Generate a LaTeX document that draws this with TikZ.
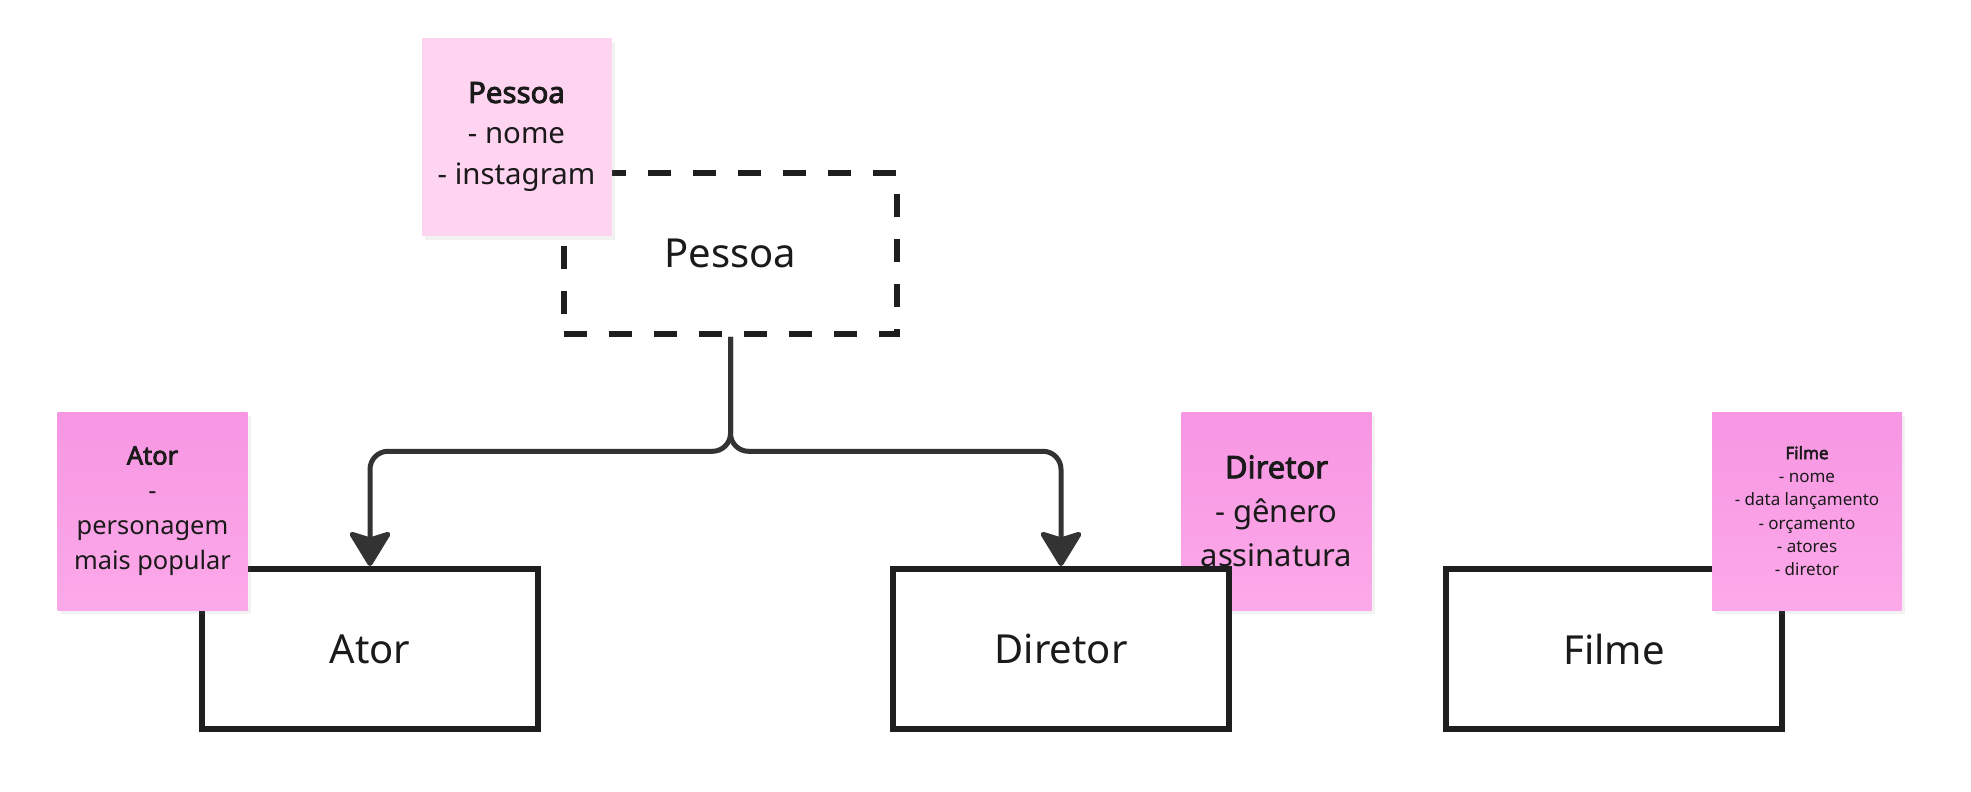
\documentclass[tikz,border=0pt]{standalone}
\usepackage{fontspec}
\setmainfont{Noto Sans}[AutoFakeBold=3]
\usetikzlibrary{arrows.meta, positioning, shadows}
\definecolor{NoteLight}{HTML}{FFD4F0}
\definecolor{NoteTop}{HTML}{F796E3}
\definecolor{NoteBottom}{HTML}{FCA9E9}
\definecolor{BoxLine}{HTML}{1E1E1E}
\definecolor{LinkLine}{HTML}{333333}
\definecolor{InkText}{HTML}{1A1A1A}

\begin{document}
\begin{tikzpicture}[x=0.5pt, y=-0.5pt,
			every node/.style={text=InkText},
			entity/.style={draw=BoxLine, line width=3pt, fill=white, rectangle, minimum width=168pt, minimum height=80pt, font=\fontsize{20}{24}\selectfont},
			abstract/.style={entity, dash pattern=on 11.5pt off 11pt, line width=2.8pt, minimum width=166.5pt, minimum height=80.5pt},
			note/.style={rectangle, minimum width=95pt, minimum height=99pt, inner sep=2pt, align=center, drop shadow={shadow xshift=1.5pt, shadow yshift=-2pt, opacity=0.1}},
			noteLight/.style={note, fill=NoteLight},
			notePink/.style={note, top color=NoteTop, bottom color=NoteBottom},
			link/.style={draw=LinkLine, line width=2.5pt, rounded corners=9pt, -{Stealth[length=19pt, width=23pt, inset=3.5pt, round]}}
		]
			\useasboundingbox (0,0) rectangle (1971,792);

			% superclasse
			\node (pessoa) [abstract] at (730.5,253.5) {Pessoa};
			\node (notePessoa) [noteLight, font=\fontsize{14.7}{20.5}\selectfont] at (516.5,137)
			{\textbf{Pessoa}\\- nome\\- instagram};

			% entidades
			\node (ator) [entity] at (370,649) {Ator};
			\node (noteAtor) [notePink, font=\fontsize{12.7}{17.5}\selectfont] at (152.5,511)
			{\textbf{Ator}\\-\\personagem\\mais popular};

			\node (noteDiretor) [notePink, font=\fontsize{15.5}{22}\selectfont] at (1276.5,511)
			{\textbf{Diretor}\\- gênero\\assinatura};
			\node (diretor) [entity, right=174.5pt of ator] {Diretor};

			\node (filme) [entity, right=105.5pt of diretor] {Filme};
			\node (noteFilme) [notePink, font=\fontsize{8.5}{11.65}\selectfont] at (1807,511)
			{\textbf{Filme}\\- nome\\- data lançamento\\- orçamento\\- atores\\- diretor};

			% heranca
			\coordinate (fork) at ([yshift=-57.25pt]pessoa.south);
			\draw[link] (pessoa.south) -- (fork) -| (ator.north);
			\draw[link] (pessoa.south) -- (fork) -| (diretor.north);
		\end{tikzpicture}
\end{document}
